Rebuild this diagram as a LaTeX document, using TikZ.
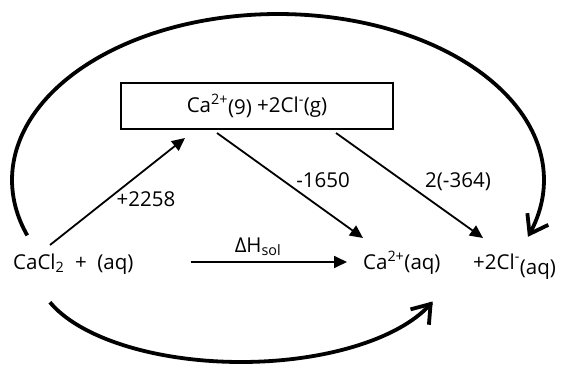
\documentclass[tikz,border=0pt]{standalone}
\usepackage{fontspec}
\setmainfont{Open Sans}
\usetikzlibrary{arrows.meta}
\begin{document}
\begin{tikzpicture}[x=1pt,y=-1pt,
  font=\fontsize{20.5}{24}\selectfont,
  thinarrow/.style={line width=1.8pt,-{Triangle[length=13pt,width=12pt]}},
  bigarc/.style={line width=3.8pt,-{Straight Barb[length=17pt,width=24pt]}},
  lbl/.style={inner sep=0pt}]
\useasboundingbox (0,0) rectangle (562,364);
% nodes
\node[draw,line width=1.9pt,minimum width=272pt,minimum height=46pt,inner sep=0pt] (box) at (257,106)
  {Ca\textsuperscript{2+}\raisebox{-2pt}{(9)} +2Cl\textsuperscript{-}(g)};
\node[lbl,anchor=base west] (react) at (13,269) {CaCl\textsubscript{2}\ \ +\ \ (aq)};
\node[lbl,anchor=base west] (ca) at (363,269) {Ca\textsuperscript{2+}(aq)};
\node[lbl,anchor=base west] (cl) at (473,269) {+2Cl\textsuperscript{-}\raisebox{-5pt}{(aq)}};
% arrow end points
\coordinate (a1s) at (50,245);
\coordinate (a1e) at (185,138);
\coordinate (a2s) at (217,133);
\coordinate (a2e) at (363,238);
\coordinate (a3s) at (336,133);
\coordinate (a3e) at (483,238);
\coordinate (dhs) at (191,262);
\coordinate (dhe) at (347,262);
% connectors
\draw[thinarrow] (a1s) -- (a1e);
\draw[thinarrow] (a2s) -- (a2e);
\draw[thinarrow] (a3s) -- (a3e);
\draw[thinarrow] (dhs) -- (dhe);
% labels
\node[lbl] (l1) at (146,199) {+2258};
\node[lbl] (l2) at (323,180) {-1650};
\node[lbl] (l3) at (458,182) {2(-364)};
\node[lbl,anchor=base] (dh) at (258,252) {ΔH\textsubscript{sol}};
% big arcs
\draw[bigarc] plot[domain=160.5:380, samples=90, smooth] ({278+266*cos(\x)},{180+166*sin(\x)});
\draw[bigarc] plot[domain=159.5:20, samples=90, smooth] ({241+204*cos(\x)},{270+92*sin(\x)});
\end{tikzpicture}
\end{document}
